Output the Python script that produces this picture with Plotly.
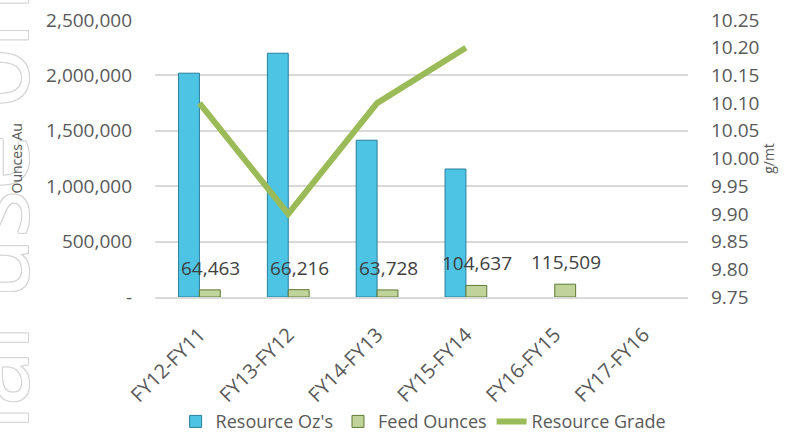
import plotly.graph_objects as go

categories = ["FY12-FY11", "FY13-FY12", "FY14-FY13", "FY15-FY14", "FY16-FY15", "FY17-FY16"]
resource_oz = [2020000, 2200000, 1415000, 1155000, None, None]
feed_ounces = [64463, 66216, 63728, 104637, 115509, None]
resource_grade = [10.10, 9.90, 10.10, 10.20, None, None]

left_ticks = [0, 500000, 1000000, 1500000, 2000000, 2500000]
left_ticktext = ["-", "500,000", "1,000,000", "1,500,000", "2,000,000", "2,500,000"]

FONT = "Open Sans"
GREY = "#595959"

fig = go.Figure()
fig.add_trace(go.Bar(x=categories, y=resource_oz, name="Resource Oz's",
                     marker=dict(color="#4EC4E4", line=dict(color="#2A7F9A", width=1))))
fig.add_trace(go.Bar(x=categories, y=feed_ounces, name="Feed Ounces",
                     marker=dict(color="#BFD39A", line=dict(color="#5F7A35", width=1))))
fig.add_trace(go.Scatter(x=categories, y=resource_grade, name="Resource Grade", yaxis="y2",
                         mode="lines", line=dict(color="#9BBB59", width=6)))

# faint watermark on the left edge (cut off, as in the source)
fig.add_annotation(x=-0.313, y=-0.41, xref="paper", yref="paper", text="For personal use only",
                   showarrow=False, textangle=-90, xanchor="center", yanchor="middle",
                   font=dict(family=FONT, size=100, color="white",
                             shadow="1px 1px 0 #d4d4d4, -1px -1px 0 #d4d4d4, 1px -1px 0 #d4d4d4, -1px 1px 0 #d4d4d4"))

# axis title on top of the watermark
fig.add_annotation(x=-0.259, y=0.5, xref="paper", yref="paper", text="Ounces Au",
                   showarrow=False, textangle=-90, xanchor="center", yanchor="middle",
                   font=dict(family=FONT, size=14, color=GREY))

# data labels above the feed ounce bars
for c, v in zip(categories, feed_ounces):
    if v is None:
        continue
    fig.add_annotation(x=c, y=v, xref="x", yref="y", text=f"{v:,}", showarrow=False,
                       xshift=11, yshift=7, yanchor="bottom",
                       font=dict(family=FONT, size=19, color="#404040"))

fig.update_layout(
    width=803, height=437,
    margin=dict(l=155, r=115, t=20, b=140),
    paper_bgcolor="white", plot_bgcolor="white",
    font=dict(family=FONT, size=17, color=GREY),
    barmode="group", bargap=0.53, bargroupgap=0,
    xaxis=dict(tickangle=-45, showgrid=False, showline=True, linecolor="#D9D9D9", linewidth=2,
               ticks="", tickfont=dict(size=20, color=GREY), ticklabelstandoff=16,
               automargin=False),
    yaxis=dict(range=[0, 2500000], tickvals=left_ticks, ticktext=left_ticktext,
               showgrid=True, gridcolor="#D9D9D9", gridwidth=2, zeroline=False,
               tickfont=dict(size=19, color=GREY), ticklabelstandoff=22, automargin=False),
    yaxis2=dict(range=[9.75, 10.25], dtick=0.05, tickformat=".2f", overlaying="y", side="right",
                showgrid=False, zeroline=False, tickfont=dict(size=19, color=GREY),
                ticklabelstandoff=22, automargin=False,
                title=dict(text="g/mt", font=dict(size=14, color=GREY), standoff=4)),
    legend=dict(orientation="h", x=0.503, xanchor="center", yref="container", y=0.035,
                yanchor="middle", font=dict(size=18, color=GREY), traceorder="normal",
                bgcolor="rgba(0,0,0,0)"),
    showlegend=True,
)

fig.write_html("out.html", config={"displayModeBar": False},
               post_script="document.body.style.margin='0';")
